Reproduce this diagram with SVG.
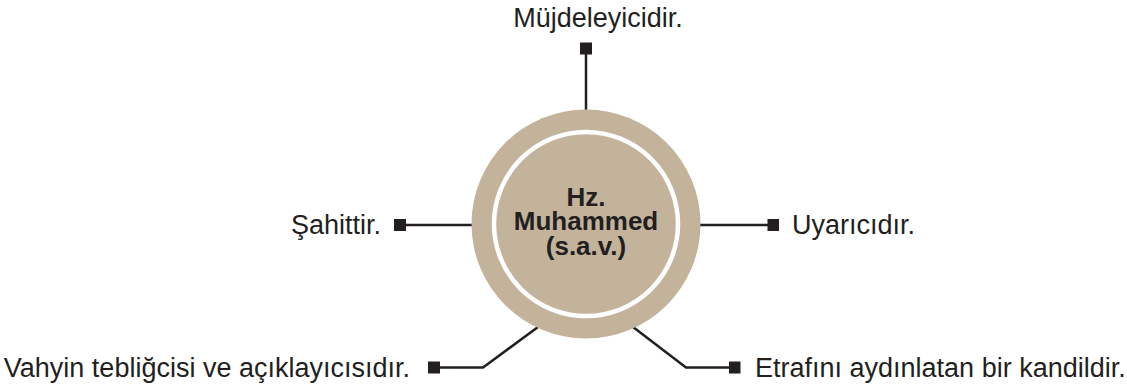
<svg xmlns="http://www.w3.org/2000/svg" width="1127" height="387" viewBox="0 0 1127 387">
<style>
.lbl{font-family:"Liberation Sans",Arial,sans-serif;font-size:27px;fill:#231f20}
.ctr{font-family:"Liberation Sans",Arial,sans-serif;font-size:26px;font-weight:bold;fill:#231f20;text-anchor:middle}
.ln{stroke:#231f20;stroke-width:2.5;fill:none}
.sq{fill:#231f20}
</style>
<rect width="1127" height="387" fill="#ffffff"/>
<g id="connectors">
<line class="ln" x1="586" y1="54" x2="586" y2="110"/>
<line class="ln" x1="405" y1="225" x2="473" y2="225"/>
<line class="ln" x1="699" y1="225" x2="768" y2="225"/>
<polyline class="ln" points="439,367.5 483,367.5 538,327"/>
<polyline class="ln" points="633,327 686,367.5 730,367.5"/>
<rect class="sq" x="580" y="42.5" width="12" height="12"/>
<rect class="sq" x="394" y="219" width="12" height="12"/>
<rect class="sq" x="767.5" y="219" width="11.5" height="12"/>
<rect class="sq" x="428" y="361.5" width="12" height="12"/>
<rect class="sq" x="729" y="361.5" width="11.5" height="12"/>
</g>
<g id="center">
<circle cx="586" cy="224" r="114.5" fill="#c4b39b"/>
<circle cx="586" cy="224" r="92" fill="none" stroke="#ffffff" stroke-width="4.5"/>
<text class="ctr" x="586" y="206">Hz.</text>
<text class="ctr" x="586" y="230">Muhammed</text>
<text class="ctr" x="586" y="255">(s.a.v.)</text>
</g>
<g id="node-top"><text class="lbl" x="598" y="27" text-anchor="middle">Müjdeleyicidir.</text></g>
<g id="node-left"><text class="lbl" x="381" y="234" text-anchor="end">Şahittir.</text></g>
<g id="node-right"><text class="lbl" x="792" y="234">Uyarıcıdır.</text></g>
<g id="node-bottom-left"><text class="lbl" x="410" y="377" text-anchor="end">Vahyin tebliğcisi ve açıklayıcısıdır.</text></g>
<g id="node-bottom-right"><text class="lbl" x="755" y="377">Etrafını aydınlatan bir kandildir.</text></g>
</svg>
